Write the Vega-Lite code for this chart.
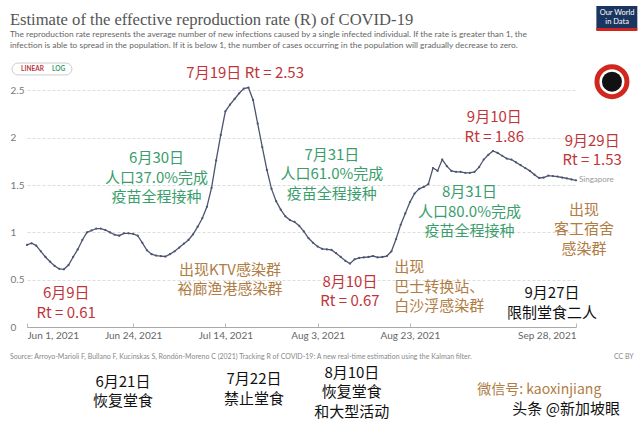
{
  "$schema": "https://vega.github.io/schema/vega-lite/v6.json",
  "width": 549,
  "height": 246,
  "autosize": {"type": "none"},
  "padding": {"left": 27, "top": 81, "right": 64, "bottom": 102},
  "background": "white",
  "config": {"view": {"stroke": null}, "font": "Lato"},
  "datasets": {
    "series": [
      {"date": "2021-06-01", "r": 0.867}, {"date": "2021-06-02", "r": 0.885}, {"date": "2021-06-03", "r": 0.86}, {"date": "2021-06-04", "r": 0.8}, {"date": "2021-06-05", "r": 0.74},
      {"date": "2021-06-06", "r": 0.69}, {"date": "2021-06-07", "r": 0.645}, {"date": "2021-06-08", "r": 0.615}, {"date": "2021-06-09", "r": 0.61}, {"date": "2021-06-10", "r": 0.655},
      {"date": "2021-06-11", "r": 0.74}, {"date": "2021-06-12", "r": 0.82}, {"date": "2021-06-13", "r": 0.92}, {"date": "2021-06-14", "r": 1.0}, {"date": "2021-06-15", "r": 1.02},
      {"date": "2021-06-16", "r": 1.04}, {"date": "2021-06-17", "r": 1.04}, {"date": "2021-06-18", "r": 1.025}, {"date": "2021-06-19", "r": 1.0}, {"date": "2021-06-20", "r": 0.975},
      {"date": "2021-06-21", "r": 0.965}, {"date": "2021-06-22", "r": 0.99}, {"date": "2021-06-23", "r": 0.99}, {"date": "2021-06-24", "r": 0.985}, {"date": "2021-06-25", "r": 0.965},
      {"date": "2021-06-26", "r": 0.89}, {"date": "2021-06-27", "r": 0.81}, {"date": "2021-06-28", "r": 0.77}, {"date": "2021-06-29", "r": 0.755}, {"date": "2021-06-30", "r": 0.75},
      {"date": "2021-07-01", "r": 0.745}, {"date": "2021-07-02", "r": 0.77}, {"date": "2021-07-03", "r": 0.8}, {"date": "2021-07-04", "r": 0.84}, {"date": "2021-07-05", "r": 0.88},
      {"date": "2021-07-06", "r": 0.92}, {"date": "2021-07-07", "r": 0.98}, {"date": "2021-07-08", "r": 1.06}, {"date": "2021-07-09", "r": 1.15}, {"date": "2021-07-10", "r": 1.27},
      {"date": "2021-07-11", "r": 1.47}, {"date": "2021-07-12", "r": 1.76}, {"date": "2021-07-13", "r": 2.03}, {"date": "2021-07-14", "r": 2.28}, {"date": "2021-07-15", "r": 2.35},
      {"date": "2021-07-16", "r": 2.41}, {"date": "2021-07-17", "r": 2.47}, {"date": "2021-07-18", "r": 2.52}, {"date": "2021-07-19", "r": 2.53}, {"date": "2021-07-20", "r": 2.4},
      {"date": "2021-07-21", "r": 2.15}, {"date": "2021-07-22", "r": 1.9}, {"date": "2021-07-23", "r": 1.66}, {"date": "2021-07-24", "r": 1.46}, {"date": "2021-07-25", "r": 1.33},
      {"date": "2021-07-26", "r": 1.24}, {"date": "2021-07-27", "r": 1.17}, {"date": "2021-07-28", "r": 1.13}, {"date": "2021-07-29", "r": 1.11}, {"date": "2021-07-30", "r": 1.07},
      {"date": "2021-07-31", "r": 1.01}, {"date": "2021-08-01", "r": 0.94}, {"date": "2021-08-02", "r": 0.89}, {"date": "2021-08-03", "r": 0.85}, {"date": "2021-08-04", "r": 0.825},
      {"date": "2021-08-05", "r": 0.82}, {"date": "2021-08-06", "r": 0.815}, {"date": "2021-08-07", "r": 0.78}, {"date": "2021-08-08", "r": 0.74}, {"date": "2021-08-09", "r": 0.7},
      {"date": "2021-08-10", "r": 0.67}, {"date": "2021-08-11", "r": 0.715}, {"date": "2021-08-12", "r": 0.73}, {"date": "2021-08-13", "r": 0.735}, {"date": "2021-08-14", "r": 0.74},
      {"date": "2021-08-15", "r": 0.75}, {"date": "2021-08-16", "r": 0.735}, {"date": "2021-08-17", "r": 0.74}, {"date": "2021-08-18", "r": 0.75}, {"date": "2021-08-19", "r": 0.8},
      {"date": "2021-08-20", "r": 0.93}, {"date": "2021-08-21", "r": 1.08}, {"date": "2021-08-22", "r": 1.2}, {"date": "2021-08-23", "r": 1.32}, {"date": "2021-08-24", "r": 1.41},
      {"date": "2021-08-25", "r": 1.46}, {"date": "2021-08-26", "r": 1.48}, {"date": "2021-08-27", "r": 1.51}, {"date": "2021-08-28", "r": 1.68}, {"date": "2021-08-29", "r": 1.65},
      {"date": "2021-08-30", "r": 1.77}, {"date": "2021-08-31", "r": 1.7}, {"date": "2021-09-01", "r": 1.65}, {"date": "2021-09-02", "r": 1.64}, {"date": "2021-09-03", "r": 1.64},
      {"date": "2021-09-04", "r": 1.63}, {"date": "2021-09-05", "r": 1.63}, {"date": "2021-09-06", "r": 1.64}, {"date": "2021-09-07", "r": 1.69}, {"date": "2021-09-08", "r": 1.77},
      {"date": "2021-09-09", "r": 1.82}, {"date": "2021-09-10", "r": 1.86}, {"date": "2021-09-11", "r": 1.84}, {"date": "2021-09-12", "r": 1.81}, {"date": "2021-09-13", "r": 1.78},
      {"date": "2021-09-14", "r": 1.77}, {"date": "2021-09-15", "r": 1.74}, {"date": "2021-09-16", "r": 1.71}, {"date": "2021-09-17", "r": 1.68}, {"date": "2021-09-18", "r": 1.65},
      {"date": "2021-09-19", "r": 1.61}, {"date": "2021-09-20", "r": 1.575}, {"date": "2021-09-21", "r": 1.58}, {"date": "2021-09-22", "r": 1.6}, {"date": "2021-09-23", "r": 1.595},
      {"date": "2021-09-24", "r": 1.59}, {"date": "2021-09-25", "r": 1.58}, {"date": "2021-09-26", "r": 1.57}, {"date": "2021-09-27", "r": 1.56}, {"date": "2021-09-28", "r": 1.55}
    ],
    "heading": [
      {"date": "2021-05-28T07:00:00Z", "r": 3.25, "label": "Estimate of the effective reproduction rate (R) of COVID-19"}
    ],
    "subheading": [
      {"date": "2021-05-28T07:00:00Z", "r": 3.1, "label": "The reproduction rate represents the average number of new infections caused by a single infected individual. If the rate is greater than 1, the\ninfection is able to spread in the population. If it is below 1, the number of cases occurring in the population will gradually decrease to zero."}
    ],
    "notes": [
      {"date": "2021-07-18T07:00:00Z", "r": 2.685, "label": "7月19日 Rt = 2.53", "kind": "peak"},
      {"date": "2021-06-09T12:00:00Z", "r": 0.359, "label": "6月9日\nRt = 0.61", "kind": "peak"},
      {"date": "2021-08-10T00:00:00Z", "r": 0.479, "label": "8月10日\nRt = 0.67", "kind": "peak"},
      {"date": "2021-09-10T07:00:00Z", "r": 2.217, "label": "9月10日\nRt = 1.86", "kind": "peak"},
      {"date": "2021-10-01T12:00:00Z", "r": 1.966, "label": "9月29日\nRt = 1.53", "kind": "peak"},
      {"date": "2021-06-29T02:00:00Z", "r": 1.786, "label": "6月30日\n人口37.0%完成\n疫苗全程接种", "kind": "vaccine"},
      {"date": "2021-08-06T02:00:00Z", "r": 1.818, "label": "7月31日\n人口61.0%完成\n疫苗全程接种", "kind": "vaccine"},
      {"date": "2021-09-04T22:00:00Z", "r": 1.424, "label": "8月31日\n人口80.0%完成\n疫苗全程接种", "kind": "vaccine"},
      {"date": "2021-07-15T00:00:00Z", "r": 0.603, "label": "出现KTV感染群\n裕廊渔港感染群", "kind": "cluster"},
      {"date": "2021-09-29T17:00:00Z", "r": 1.237, "label": "出现\n客工宿舍\n感染群", "kind": "cluster"},
      {"date": "2021-09-22T19:00:00Z", "r": 0.356, "label": "9月27日\n限制堂食二人", "kind": "policy"},
      {"date": "2021-06-21T19:00:00Z", "r": -0.581, "label": "6月21日\n恢复堂食", "kind": "policy"},
      {"date": "2021-07-20T05:00:00Z", "r": -0.55, "label": "7月22日\n禁止堂食", "kind": "policy"},
      {"date": "2021-08-10T10:00:00Z", "r": -0.486, "label": "8月10日\n恢复堂食\n和大型活动", "kind": "policy"}
    ],
    "notesLeft": [
      {"date": "2021-08-19T14:00:00Z", "r": 0.631, "label": "出现\n巴士转换站、\n白沙浮感染群", "kind": "cluster"}
    ],
    "sourceNote": [
      {"date": "2021-05-28T07:00:00Z", "r": -0.317, "label": "Source: Arroyo-Marioli F, Bullano F, Kucinskas S, Rondón-Moreno C (2021) Tracking R of COVID-19: A new real-time estimation using the Kalman filter."}
    ],
    "licence": [
      {"date": "2021-10-10T12:00:00Z", "r": -0.317, "label": "CC BY"}
    ],
    "scaleButtons": [
      {"date": "2021-06-02T04:30:00Z", "r": 2.727, "label": "LINEAR", "kind": "active"},
      {"date": "2021-06-07T20:00:00Z", "r": 2.727, "label": "LOG", "kind": "inactive"}
    ],
    "buttonBox": [
      {"start": "2021-05-28T18:00:00Z", "end": "2021-06-10T18:00:00Z", "lo": 2.664, "hi": 2.79}
    ],
    "logoBox": [
      {"start": "2021-10-02T10:00:00Z", "end": "2021-10-11T07:00:00Z", "lo": 3.14, "hi": 3.393, "part": "box"},
      {"start": "2021-10-02T10:00:00Z", "end": "2021-10-11T07:00:00Z", "lo": 3.129, "hi": 3.161, "part": "strip"}
    ],
    "logoText": [
      {"date": "2021-10-06T22:00:00Z", "r": 3.315, "label": "Our World\nin Data"}
    ],
    "eyeLogo": [
      {"date": "2021-10-05T19:00:00Z", "r": 2.593}
    ],
    "watermark": [
      {"date": "2021-09-06T14:00:00Z", "r": -0.666, "label": "微信号: kaoxinjiang", "kind": "wechat"},
      {"date": "2021-09-14T05:00:00Z", "r": -0.866, "label": "头条 @新加坡眼", "kind": "toutiao"}
    ]
  },
  "layer": [
    {
      "data": {"name": "series"},
      "mark": {"type": "line", "color": "#4c5570", "strokeWidth": 1.3, "point": {"filled": true, "size": 5, "color": "#4c5570"}},
      "encoding": {
        "x": {
          "field": "date", "type": "temporal",
          "scale": {"type": "utc", "domain": [{"year": 2021, "month": 6, "date": 1, "utc": true}, {"year": 2021, "month": 9, "date": 28, "utc": true}]},
          "axis": {
            "title": null,
            "values": [
              {"year": 2021, "month": 6, "date": 1, "utc": true},
              {"year": 2021, "month": 6, "date": 24, "utc": true},
              {"year": 2021, "month": 7, "date": 14, "utc": true},
              {"year": 2021, "month": 8, "date": 3, "utc": true},
              {"year": 2021, "month": 8, "date": 23, "utc": true},
              {"year": 2021, "month": 9, "date": 28, "utc": true}
            ],
            "format": "%b %-d, %Y",
            "labelFlush": true,
            "grid": false,
            "domainColor": "#aaaaaa",
            "tickColor": "#bbbbbb",
            "tickSize": -4,
            "labelPadding": 7,
            "labelFont": "Lato",
            "labelFontSize": 10,
            "labelColor": "#666666"
          }
        },
        "y": {
          "field": "r", "type": "quantitative",
          "scale": {"domain": [0, 2.6], "nice": false, "zero": false},
          "axis": {
            "title": null,
            "values": [0, 0.5, 1, 1.5, 2, 2.5],
            "format": "~g",
            "domain": false,
            "ticks": false,
            "tickSize": 0,
            "labelAlign": "left",
            "labelPadding": 17,
            "labelFont": "Lato",
            "labelFontSize": 10,
            "labelColor": "#777777",
            "gridColor": "#dddddd",
            "gridDash": [3, 2]
          }
        }
      }
    },
    {
      "data": {"name": "series"},
      "transform": [{"filter": "time(datum.date) == utc(2021, 8, 28)"}],
      "mark": {"type": "text", "align": "left", "baseline": "middle", "dx": 3, "font": "Lato", "fontSize": 8, "color": "#999999"},
      "encoding": {
        "x": {"field": "date", "type": "temporal"},
        "y": {"field": "r", "type": "quantitative"},
        "text": {"value": "Singapore"}
      }
    },
    {
      "data": {"name": "heading"},
      "mark": {"type": "text", "align": "left", "baseline": "middle", "font": "Liberation Serif", "fontSize": 16.6, "color": "#555555"},
      "encoding": {
        "x": {"field": "date", "type": "temporal"},
        "y": {"field": "r", "type": "quantitative"},
        "text": {"field": "label"}
      }
    },
    {
      "data": {"name": "subheading"},
      "mark": {"type": "text", "align": "left", "baseline": "middle", "font": "Lato", "fontSize": 8.4, "color": "#666666", "lineBreak": "\n", "lineHeight": 11},
      "encoding": {
        "x": {"field": "date", "type": "temporal"},
        "y": {"field": "r", "type": "quantitative"},
        "text": {"field": "label"}
      }
    },
    {
      "data": {"name": "notes"},
      "mark": {"type": "text", "align": "center", "baseline": "middle", "font": "Noto Sans CJK SC", "fontSize": 15, "lineBreak": "\n", "lineHeight": 19.5},
      "encoding": {
        "x": {"field": "date", "type": "temporal"},
        "y": {"field": "r", "type": "quantitative"},
        "text": {"field": "label"},
        "color": {"field": "kind", "type": "nominal", "legend": null,
          "scale": {"domain": ["peak", "vaccine", "cluster", "policy"], "range": ["#c0353a", "#3a9e6c", "#b07d44", "#111111"]}}
      }
    },
    {
      "data": {"name": "notesLeft"},
      "mark": {"type": "text", "align": "left", "baseline": "middle", "font": "Noto Sans CJK SC", "fontSize": 15, "lineBreak": "\n", "lineHeight": 19.5, "color": "#b07d44"},
      "encoding": {
        "x": {"field": "date", "type": "temporal"},
        "y": {"field": "r", "type": "quantitative"},
        "text": {"field": "label"}
      }
    },
    {
      "data": {"name": "sourceNote"},
      "mark": {"type": "text", "align": "left", "baseline": "middle", "font": "Lato", "fontSize": 7, "color": "#888888"},
      "encoding": {
        "x": {"field": "date", "type": "temporal"},
        "y": {"field": "r", "type": "quantitative"},
        "text": {"field": "label"}
      }
    },
    {
      "data": {"name": "licence"},
      "mark": {"type": "text", "align": "right", "baseline": "middle", "font": "Lato", "fontSize": 7, "color": "#888888"},
      "encoding": {
        "x": {"field": "date", "type": "temporal"},
        "y": {"field": "r", "type": "quantitative"},
        "text": {"field": "label"}
      }
    },
    {
      "data": {"name": "buttonBox"},
      "mark": {"type": "rect", "fill": "#ffffff", "stroke": "#cccccc", "strokeWidth": 1, "cornerRadius": 6},
      "encoding": {
        "x": {"field": "start", "type": "temporal"},
        "x2": {"field": "end"},
        "y": {"field": "lo", "type": "quantitative"},
        "y2": {"field": "hi"}
      }
    },
    {
      "data": {"name": "scaleButtons"},
      "mark": {"type": "text", "align": "center", "baseline": "middle", "font": "Lato", "fontSize": 6.5, "fontWeight": "bold"},
      "encoding": {
        "x": {"field": "date", "type": "temporal"},
        "y": {"field": "r", "type": "quantitative"},
        "text": {"field": "label"},
        "color": {"field": "kind", "type": "nominal", "legend": null,
          "scale": {"domain": ["active", "inactive"], "range": ["#3b6a9c", "#999999"]}}
      }
    },
    {
      "data": {"name": "logoBox"},
      "mark": {"type": "rect"},
      "encoding": {
        "x": {"field": "start", "type": "temporal"},
        "x2": {"field": "end"},
        "y": {"field": "lo", "type": "quantitative"},
        "y2": {"field": "hi"},
        "fill": {"field": "part", "type": "nominal", "legend": null,
          "scale": {"domain": ["box", "strip"], "range": ["#1a3560", "#ce261e"]}}
      }
    },
    {
      "data": {"name": "logoText"},
      "mark": {"type": "text", "align": "center", "baseline": "middle", "font": "Lato", "fontSize": 7.5, "color": "#ffffff", "lineBreak": "\n", "lineHeight": 9},
      "encoding": {
        "x": {"field": "date", "type": "temporal"},
        "y": {"field": "r", "type": "quantitative"},
        "text": {"field": "label"}
      }
    },
    {
      "data": {"name": "eyeLogo"},
      "mark": {"type": "point", "shape": "circle", "size": 900, "filled": false, "fill": "#ffffff", "stroke": "#d0281f", "strokeWidth": 5, "opacity": 1},
      "encoding": {
        "x": {"field": "date", "type": "temporal"},
        "y": {"field": "r", "type": "quantitative"}
      }
    },
    {
      "data": {"name": "eyeLogo"},
      "mark": {"type": "point", "shape": "circle", "size": 400, "filled": true, "color": "#111111", "opacity": 1},
      "encoding": {
        "x": {"field": "date", "type": "temporal"},
        "y": {"field": "r", "type": "quantitative"}
      }
    },
    {
      "data": {"name": "watermark"},
      "mark": {"type": "text", "align": "left", "baseline": "middle", "font": "Noto Sans CJK SC"},
      "encoding": {
        "x": {"field": "date", "type": "temporal"},
        "y": {"field": "r", "type": "quantitative"},
        "text": {"field": "label"},
        "color": {"field": "kind", "type": "nominal", "legend": null,
          "scale": {"domain": ["wechat", "toutiao"], "range": ["#9a9a9a", "#111111"]}},
        "size": {"field": "kind", "type": "nominal", "legend": null,
          "scale": {"domain": ["wechat", "toutiao"], "range": [14, 15]}}
      }
    }
  ]
}
